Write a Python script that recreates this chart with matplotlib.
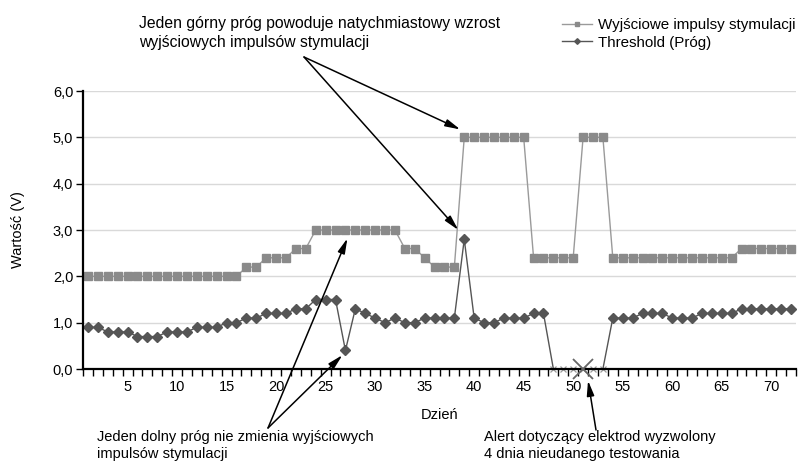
import numpy as np
import matplotlib as mpl
mpl.use('Agg')
from matplotlib import pyplot as plt
from matplotlib.ticker import FuncFormatter

plt.rcParams['font.family'] = ['Liberation Sans', 'DejaVu Sans']

# dane
days = list(range(1, 73))
output = ([2.0] * 16 + [2.2] * 2 + [2.4] * 3 + [2.6] * 2 + [3.0] * 9 +
          [2.6] * 2 + [2.4] + [2.2] * 3 + [5.0] * 7 + [2.4] * 5 +
          [5.0] * 3 + [2.4] * 13 + [2.6] * 6)
threshold = [0.9, 0.9, 0.8, 0.8, 0.8, 0.7, 0.7, 0.7, 0.8, 0.8,
             0.8, 0.9, 0.9, 0.9, 1.0, 1.0, 1.1, 1.1, 1.2, 1.2,
             1.2, 1.3, 1.3, 1.5, 1.5, 1.5, 0.4, 1.3, 1.2, 1.1,
             1.0, 1.1, 1.0, 1.0, 1.1, 1.1, 1.1, 1.1, 2.8, 1.1,
             1.0, 1.0, 1.1, 1.1, 1.1, 1.2, 1.2, 0.0, 0.0, 0.0,
             0.0, 0.0, 0.0, 1.1, 1.1, 1.1, 1.2, 1.2, 1.2, 1.1,
             1.1, 1.1, 1.2, 1.2, 1.2, 1.2, 1.3, 1.3, 1.3, 1.3,
             1.3, 1.3]
failed_days = [48, 49, 50, 51, 52, 53]
alert_day = 51
xtick_days = [5, 10, 15, 20, 25, 30, 35, 40, 45, 50, 55, 60, 65, 70]
yticks = [0, 1, 2, 3, 4, 5, 6]

fig = plt.figure(figsize=(8.08, 4.61), dpi=100)
ax = fig.add_axes([83 / 808, 92 / 461, 713 / 808, 278 / 461])

ok_idx = [i for i, d in enumerate(days) if d not in failed_days]

ax.plot(days, output, color='#9a9a9a', lw=1.0, marker='s', ms=6,
        mfc='#8a8a8a', mec='#8a8a8a', zorder=3,
        label='Wyjściowe impulsy stymulacji')
ax.plot(days, threshold, color='#555555', lw=1.0, marker='D', ms=4.8,
        mfc='#555555', mec='#555555', markevery=ok_idx, zorder=3,
        label='Threshold (Próg)')
ax.plot(failed_days, [0] * len(failed_days), ls='none', marker='x', ms=5,
        mec='#9a9a9a', mew=0.9, zorder=4, clip_on=False)
ax.plot([alert_day], [0], ls='none', marker='x', ms=14, mec='#666666',
        mew=1.3, zorder=5, clip_on=False)

ax.set_xlim(0.5, 72.5)
ax.set_ylim(0, 6)
ax.set_yticks(yticks)
ax.yaxis.set_major_formatter(FuncFormatter(lambda v, p: f'{v:.1f}'.replace('.', ',')))
ax.set_xticks(xtick_days)
ax.set_xticks(np.arange(0.5, 73, 1), minor=True)
ax.tick_params(axis='x', which='major', length=0, pad=8, labelsize=10.5)
ax.tick_params(axis='x', which='minor', length=5, width=1, direction='out')
ax.tick_params(axis='y', length=5, width=1, direction='out', pad=2, labelsize=10.5)
ax.grid(axis='y', color='#d9d9d9', lw=1)
ax.set_axisbelow(True)
for s in ['top', 'right']:
    ax.spines[s].set_visible(False)
for s in ['left', 'bottom']:
    ax.spines[s].set_linewidth(1.6)
    ax.spines[s].set_zorder(4)

ax.set_xlabel('Dzień', fontsize=10.5, labelpad=10)
ax.set_ylabel('Wartość (V)', fontsize=10.5, labelpad=20)

fig.legend(loc='upper left', bbox_to_anchor=(562 / 808, 1 - 18 / 461),
           frameon=False, fontsize=10.9, handlelength=2.0, handletextpad=0.35,
           labelspacing=0.25, borderaxespad=0, borderpad=0, markerscale=0.6)

# adnotacje
fig.text(139 / 808, 1 - 16 / 461,
         'Jeden górny próg powoduje natychmiastowy wzrost\nwyjściowych impulsów stymulacji',
         fontsize=11.3, va='top', ha='left', linespacing=1.32)
fig.text(97 / 808, 1 - 430 / 461,
         'Jeden dolny próg nie zmienia wyjściowych\nimpulsów stymulacji',
         fontsize=10.5, va='top', ha='left', linespacing=1.3)
fig.text(484 / 808, 1 - 430 / 461,
         'Alert dotyczący elektrod wyzwolony\n4 dnia nieudanego testowania',
         fontsize=10.5, va='top', ha='left', linespacing=1.3)

arrow = dict(arrowstyle='-|>,head_length=0.9,head_width=0.22', color='black',
             lw=1.1, shrinkA=0, shrinkB=0)
i39 = days.index(39)
i27 = days.index(27)
ia = days.index(alert_day)
top_src = (304 / 808, 1 - 57 / 461)
bot_src = (268 / 808, 1 - 428 / 461)
ax.annotate('', xy=(days[i39] - 0.4, output[i39] + 0.17), xycoords='data',
            xytext=top_src, textcoords='figure fraction', arrowprops=arrow,
            annotation_clip=False)
ax.annotate('', xy=(days[i39] - 0.6, threshold[i39] + 0.2), xycoords='data',
            xytext=top_src, textcoords='figure fraction', arrowprops=arrow,
            annotation_clip=False)
ax.annotate('', xy=(days[i27] + 0.2, output[i27] - 0.18), xycoords='data',
            xytext=bot_src, textcoords='figure fraction', arrowprops=arrow,
            annotation_clip=False)
ax.annotate('', xy=(days[i27] - 0.3, threshold[i27] - 0.1), xycoords='data',
            xytext=bot_src, textcoords='figure fraction', arrowprops=arrow,
            annotation_clip=False)
ax.annotate('', xy=(days[ia] + 0.5, -0.25), xycoords='data',
            xytext=(596 / 808, 1 - 430 / 461), textcoords='figure fraction',
            arrowprops=arrow, annotation_clip=False)

fig.savefig('out.png', dpi=100)
